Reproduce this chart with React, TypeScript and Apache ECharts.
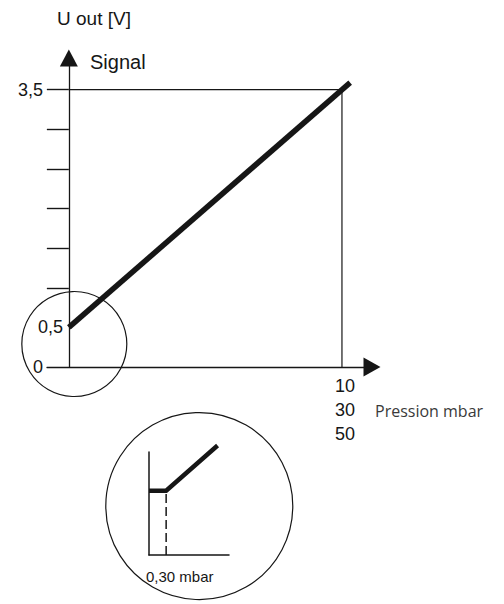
import React, { useEffect, useRef } from "react";
import * as echarts from "echarts";

// Main chart data
const voltLabelValues = [0, 0.5, 3.5];
const voltTickValues = [1, 1.5, 2, 2.5, 3, 3.5];
const pressureLabelValues = [10];
const pressureRanges = ["10", "30", "50"];
const signalLine = [
  [0, 0.5],
  [10.3, 3.59],
];
const fullScaleFrame = [
  [0, 3.5],
  [10, 3.5],
  [10, 0],
];
// Inset (zoom on origin) data
const insetSignal = [
  [0, 0.5],
  [0.3, 0.5],
  [1.2, 0.85],
];
const insetThreshold = [
  [0.3, 0],
  [0.3, 0.5],
];
// Annotation circle centres (in data units)
const originCircleCenter = [0.2, 0.29];
const insetCircleCenter = [0.88, 0.38];

const INK = "#161616";
const FONT = "Arial";

export default function App() {
  const ref = useRef<HTMLDivElement>(null);

  useEffect(() => {
    if (!ref.current) return;
    const chart = echarts.init(ref.current, undefined, { renderer: "svg" });
    chart.setOption({
      animation: false,
      backgroundColor: "#ffffff",
      grid: [
        { left: 47, top: 58, width: 325, height: 309, outerBoundsMode: "none", containLabel: false },
        { left: 149, top: 452, width: 80, height: 103, outerBoundsMode: "none", containLabel: false },
      ],
      xAxis: [
        {
          type: "value",
          gridIndex: 0,
          min: -0.8,
          max: 11.1,
          splitLine: { show: false },
          axisLine: {
            onZero: true,
            symbol: ["none", "triangle"],
            symbolSize: [19, 17],
            lineStyle: { color: INK, width: 1.3 },
          },
          axisTick: { show: false },
          axisLabel: {
            customValues: pressureLabelValues,
            formatter: () => pressureRanges.join("\n"),
            margin: 7,
            lineHeight: 24,
            padding: [0, 0, 0, 6],
            fontSize: 18,
            fontFamily: FONT,
            color: INK,
          },
        },
        {
          type: "value",
          gridIndex: 1,
          min: 0,
          max: 1.4,
          splitLine: { show: false },
          axisLine: { lineStyle: { color: INK, width: 1.5 } },
          axisTick: { show: false },
          axisLabel: { show: false },
        },
      ],
      yAxis: [
        {
          type: "value",
          gridIndex: 0,
          min: 0,
          max: 3.9,
          splitLine: { show: false },
          axisLine: {
            show: true,
            onZero: true,
            symbol: ["none", "triangle"],
            symbolSize: [18, 17],
            lineStyle: { color: INK, width: 1.3 },
          },
          axisTick: {
            show: true,
            customValues: voltTickValues,
            inside: false,
            length: 22,
            lineStyle: { color: INK, width: 1.4 },
          },
          axisLabel: {
            customValues: voltLabelValues,
            margin: -16,
            formatter: (v: number) => {
              const s = String(v).replace(".", ",");
              return v === 0.5 ? `{n|${s}}` : `{f|${s}}`;
            },
            rich: {
              n: { fontSize: 18, fontFamily: FONT, color: INK },
              f: { fontSize: 18, fontFamily: FONT, color: INK, padding: [0, 20, 0, 0] },
            },
          },
        },
        {
          type: "value",
          gridIndex: 1,
          min: 0,
          max: 0.8,
          splitLine: { show: false },
          axisLine: { show: true, lineStyle: { color: INK, width: 1.5 } },
          axisTick: { show: false },
          axisLabel: { show: false },
        },
      ],
      series: [
        {
          type: "line",
          xAxisIndex: 0,
          yAxisIndex: 0,
          data: fullScaleFrame,
          symbol: "none",
          lineStyle: { color: INK, width: 1.2 },
          silent: true,
        },
        {
          type: "line",
          xAxisIndex: 0,
          yAxisIndex: 0,
          data: signalLine,
          symbol: "none",
          clip: false,
          lineStyle: { color: INK, width: 5.5 },
          silent: true,
        },
        {
          type: "line",
          xAxisIndex: 1,
          yAxisIndex: 1,
          data: insetThreshold,
          symbol: "none",
          lineStyle: { color: INK, width: 1.5, type: [9, 4] },
          silent: true,
        },
        {
          type: "line",
          xAxisIndex: 1,
          yAxisIndex: 1,
          data: insetSignal,
          symbol: "none",
          clip: false,
          lineStyle: { color: INK, width: 4.5, join: "miter" },
          silent: true,
        },
      ],
    });

    const c1 = chart.convertToPixel({ gridIndex: 0 }, originCircleCenter) as number[];
    const c2 = chart.convertToPixel({ gridIndex: 1 }, insetCircleCenter) as number[];

    chart.setOption({
      graphic: [
        {
          type: "circle",
          shape: { cx: c1[0], cy: c1[1], r: 52.5 },
          style: { fill: "none", stroke: INK, lineWidth: 1.2 },
          silent: true,
        },
        {
          type: "circle",
          shape: { cx: c2[0], cy: c2[1], r: 93.5 },
          style: { fill: "none", stroke: INK, lineWidth: 1.2 },
          silent: true,
        },
        {
          type: "text",
          left: 57,
          top: 9,
          style: { text: "U out [V]", fontSize: 19, fontFamily: FONT, fill: INK },
        },
        {
          type: "text",
          left: 90,
          top: 52,
          style: { text: "Signal", fontSize: 20, fontFamily: FONT, fill: INK },
        },
        {
          type: "text",
          left: 375,
          top: 403,
          style: { text: "Pression mbar", fontSize: 16, fontFamily: "Open Sans", fill: "#3a3a3a" },
        },
        {
          type: "text",
          left: 146,
          top: 569,
          style: { text: "0,30 mbar", fontSize: 15, fontFamily: FONT, fill: INK },
        },
      ],
    });

    return () => chart.dispose();
  }, []);

  return (
    <div
      ref={ref}
      style={{ position: "fixed", left: 0, top: 0, width: 504, height: 604, background: "#fff" }}
    />
  );
}
